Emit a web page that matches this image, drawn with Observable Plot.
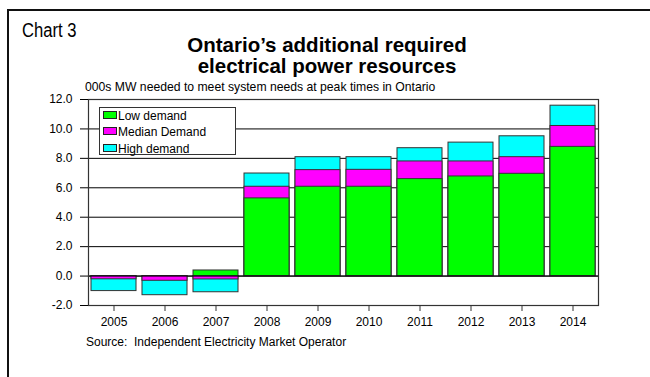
<!DOCTYPE html>
<html>
<head>
<meta charset="utf-8">
<script src="https://cdn.jsdelivr.net/npm/d3@7"></script>
<script src="https://cdn.jsdelivr.net/npm/@observablehq/plot@0.6"></script>
<style>
  html, body { margin: 0; padding: 0; background: #fff; }
  #wrap { position: relative; width: 650px; height: 377px; overflow: hidden; font-family: "Liberation Sans", Arial, sans-serif; color: #000; }
  #wrap > * { position: absolute; }
  .outer { left: 7px; top: 8.5px; width: 700px; height: 400px; border-left: 2px solid #111; border-top: 2px solid #111; }
  .chartno { left: 21.5px; top: 20px; font-size: 20px; line-height: 20px; white-space: nowrap; transform: scaleX(0.83); transform-origin: 0 0; }
  .title { left: 97px; width: 460px; top: 33.8px; text-align: center; font-weight: bold; font-size: 20.5px; line-height: 21.6px; }
  .subtitle { left: 85px; top: 81.4px; font-size: 12.2px; line-height: 12.2px; white-space: nowrap; }
  .source { left: 86px; top: 335.8px; font-size: 12px; line-height: 12px; white-space: nowrap; }
  .legend { left: 99px; top: 106.5px; width: 137px; height: 48px; background: #fff; border: 1px solid #333; box-sizing: border-box; }
  .legend .row { position: absolute; left: 3px; height: 14px; white-space: nowrap; font-size: 12px; line-height: 14px; }
  .legend .sw { display: inline-block; width: 12px; height: 6px; border: 1px solid #222; margin-right: 1px; vertical-align: 1px; }
</style>
</head>
<body>
<div id="wrap"></div>
<script>
// ---- data ----
const years = ["2005", "2006", "2007", "2008", "2009", "2010", "2011", "2012", "2013", "2014"];
const lowDemand    = [0.0, 0.0, 0.38, 5.28, 6.07, 6.07, 6.59, 6.77, 6.95, 8.78];
const medianDemand = [-0.22, -0.32, -0.23, 6.07, 7.2, 7.22, 7.79, 7.79, 8.08, 10.2];
const highDemand   = [-1.02, -1.3, -1.1, 6.97, 8.08, 8.08, 8.69, 9.07, 9.5, 11.58];
const yTicks = [-2, 0, 2, 4, 6, 8, 10, 12];
const seriesNames = ["Low demand", "Median Demand", "High demand"];
const seriesColors = ["#00FF00", "#FF00FF", "#00FFFF"];

const rows = years.map((y, i) => ({year: y, low: lowDemand[i], median: medianDemand[i], high: highDemand[i]}));

const wrap = document.getElementById("wrap");

const outer = document.createElement("div");
outer.className = "outer";
wrap.appendChild(outer);

const chart = Plot.plot({
  width: 650,
  height: 377,
  marginLeft: 88,
  marginRight: 52,
  marginTop: 99,
  marginBottom: 72,
  style: {background: "transparent", color: "#000", fontFamily: "'Liberation Sans', Arial, sans-serif", fontSize: "12px"},
  x: {type: "band", domain: years, paddingInner: 0.11, paddingOuter: 0.055, label: null},
  y: {domain: [-2, 12], label: null},
  marks: [
    Plot.ruleY(yTicks, {stroke: "#000", strokeWidth: 1}),
    Plot.barY(rows, {x: "year", y1: 0, y2: "high", fill: seriesColors[2], stroke: "#333", strokeWidth: 1}),
    Plot.barY(rows, {x: "year", y1: 0, y2: "median", fill: seriesColors[1], stroke: "#333", strokeWidth: 1}),
    Plot.barY(rows, {x: "year", y1: 0, y2: "low", fill: seriesColors[0], stroke: "#333", strokeWidth: 1}),
    Plot.ruleY([0], {stroke: "#000", strokeWidth: 1}),
    Plot.frame({stroke: "#333", strokeWidth: 1.2}),
    Plot.axisY({ticks: yTicks, tickSize: 8, tickPadding: 8, tickFormat: d => d.toFixed(1), label: null, stroke: "#000"}),
    Plot.axisX({tickSize: 6, tickPadding: 6, label: null, stroke: "#333"})
  ]
});
wrap.appendChild(chart);
chart.style.left = "0px";
chart.style.top = "0px";

function addText(cls, html) {
  const d = document.createElement("div");
  d.className = cls;
  d.innerHTML = html;
  wrap.appendChild(d);
  return d;
}
addText("chartno", "Chart 3");
addText("title", "Ontario’s additional required<br>electrical power resources");
addText("subtitle", "000s MW needed to meet system needs at peak times in Ontario");
addText("source", "Source:&nbsp; Independent Electricity Market Operator");

const legend = addText("legend", "");
seriesNames.forEach((name, i) => {
  const r = document.createElement("div");
  r.className = "row";
  r.style.top = (1 + i * 16.7) + "px";
  const sw = document.createElement("span");
  sw.className = "sw";
  sw.style.background = seriesColors[i];
  r.appendChild(sw);
  r.appendChild(document.createTextNode(name));
  legend.appendChild(r);
});
</script>
</body>
</html>
